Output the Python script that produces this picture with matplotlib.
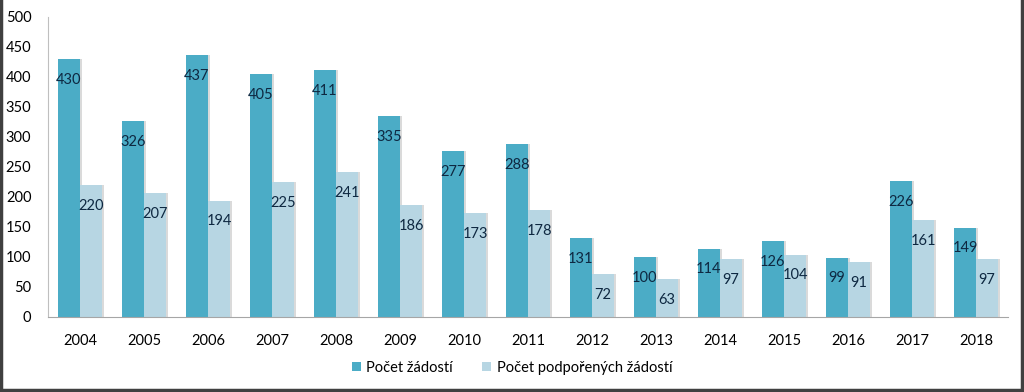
import matplotlib
matplotlib.use("Agg")
import matplotlib.pyplot as plt
import numpy as np
from matplotlib.lines import Line2D

years = ["2004", "2005", "2006", "2007", "2008", "2009", "2010", "2011",
         "2012", "2013", "2014", "2015", "2016", "2017", "2018"]
zadosti = [430, 326, 437, 405, 411, 335, 277, 288, 131, 100, 114, 126, 99, 226, 149]
podporene = [220, 207, 194, 225, 241, 186, 173, 178, 72, 63, 97, 104, 91, 161, 97]
series_names = ["Počet žádostí", "Počet podpořených žádostí"]

plt.rcParams['font.family'] = ['Lato', 'DejaVu Sans']

fig = plt.figure(figsize=(10.24, 3.92), dpi=100)
ax = fig.add_axes([48/1024, 1 - 317/392, 960/1024, 300/392])

x = np.arange(len(years))
w = 0.345
c1 = "#4BACC6"
c2 = "#B7D6E3"
shadow = "#DADADA"

# subtle shadows
ax.bar(x - w/2 + 0.03, zadosti, w, color=shadow, zorder=1)
ax.bar(x + w/2 + 0.03, podporene, w, color=shadow, zorder=1)
b1 = ax.bar(x - w/2, zadosti, w, color=c1, zorder=2, label=series_names[0])
b2 = ax.bar(x + w/2, podporene, w, color=c2, zorder=2, label=series_names[1])

for bars, vals in ((b1, zadosti), (b2, podporene)):
    for r, v in zip(bars, vals):
        ax.annotate(str(v), (r.get_x() + r.get_width()/2, v), xytext=(0, -15),
                    textcoords="offset points", ha="center", va="center",
                    fontsize=10.5, color="#0E2841", zorder=3)

ax.set_xlim(-0.5, len(years) - 0.5)
ax.set_ylim(0, 500)
ax.set_yticks(range(0, 501, 50))
ax.set_xticks(x)
ax.set_xticklabels(years)
ax.tick_params(axis='both', length=0, labelsize=10.5, colors="#000000")
ax.tick_params(axis='x', pad=12)
ax.tick_params(axis='y', pad=12)
for s in ("top", "right"):
    ax.spines[s].set_visible(False)
ax.spines["left"].set_color("#BFBFBF")
ax.spines["bottom"].set_color("#A6A6A6")

leg = fig.legend(handles=[b1, b2], labels=series_names, loc="center",
                 bbox_to_anchor=(0.5, 1 - 368/392), ncol=2, frameon=False,
                 fontsize=10.5, handlelength=0.6, handleheight=0.6,
                 handletextpad=0.4, columnspacing=2.0)

# figure border on left, right and bottom
bx0, bx1, by0 = 0.5/1024, 1 - 2/1024, 2/392
for xs, ys in (([bx0, bx0], [by0, 1]), ([bx1, bx1], [by0, 1]), ([bx0, bx1], [by0, by0])):
    fig.lines.append(Line2D(xs, ys, transform=fig.transFigure,
                            color="#404040", linewidth=2.5))

fig.savefig("out.png", dpi=100)
